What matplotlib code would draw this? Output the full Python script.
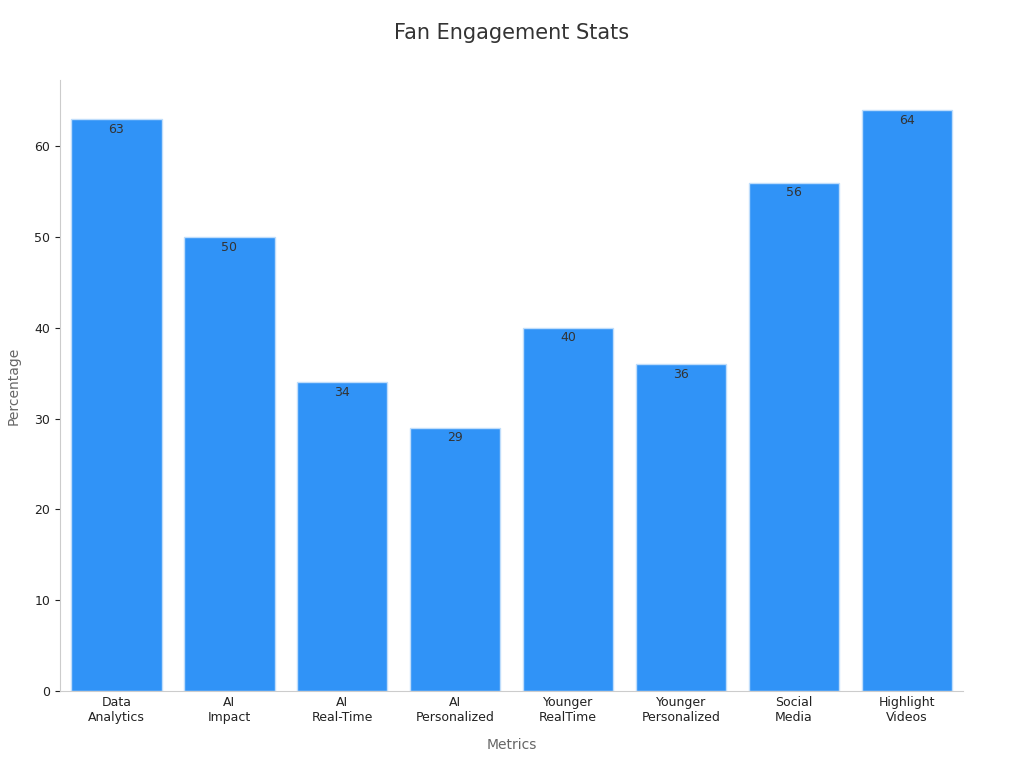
import matplotlib as mpl
mpl.use('agg')
import matplotlib.pyplot as plt

categories = ['Data\nAnalytics', 'AI\nImpact', 'AI\nReal-Time', 'AI\nPersonalized',
              'Younger\nRealTime', 'Younger\nPersonalized', 'Social\nMedia', 'Highlight\nVideos']
values = [63, 50, 34, 29, 40, 36, 56, 64]

fig = plt.figure(figsize=(10.24, 7.68), dpi=100)
ax = fig.add_axes([0.0586, 0.1003, 0.882, 0.7956])

x = range(len(values))
bars = ax.bar(x, values, width=0.8, color='#3093F7', edgecolor='#BFDDFB', linewidth=1)
for xi, v in zip(x, values):
    ax.text(xi, v - 0.4, str(v), ha='center', va='top', fontsize=9, color='#333333')

ax.set_xlim(-0.5, 7.5)
ax.set_ylim(0, 67.3)
ax.set_xticks(list(x))
ax.set_xticklabels(categories, fontsize=9, color='#222222')
ax.tick_params(axis='y', labelsize=9, colors='#222222')
ax.tick_params(axis='x', length=0)
for s in ['top', 'right']:
    ax.spines[s].set_visible(False)
for s in ['left', 'bottom']:
    ax.spines[s].set_color('#CCCCCC')
ax.set_xlabel('Metrics', fontsize=10, color='#666666', labelpad=10)
ax.set_ylabel('Percentage', fontsize=10, color='#666666', labelpad=10)
fig.suptitle('Fan Engagement Stats', fontsize=15, color='#333333', y=0.97)

plt.savefig('out.png', dpi=100)
